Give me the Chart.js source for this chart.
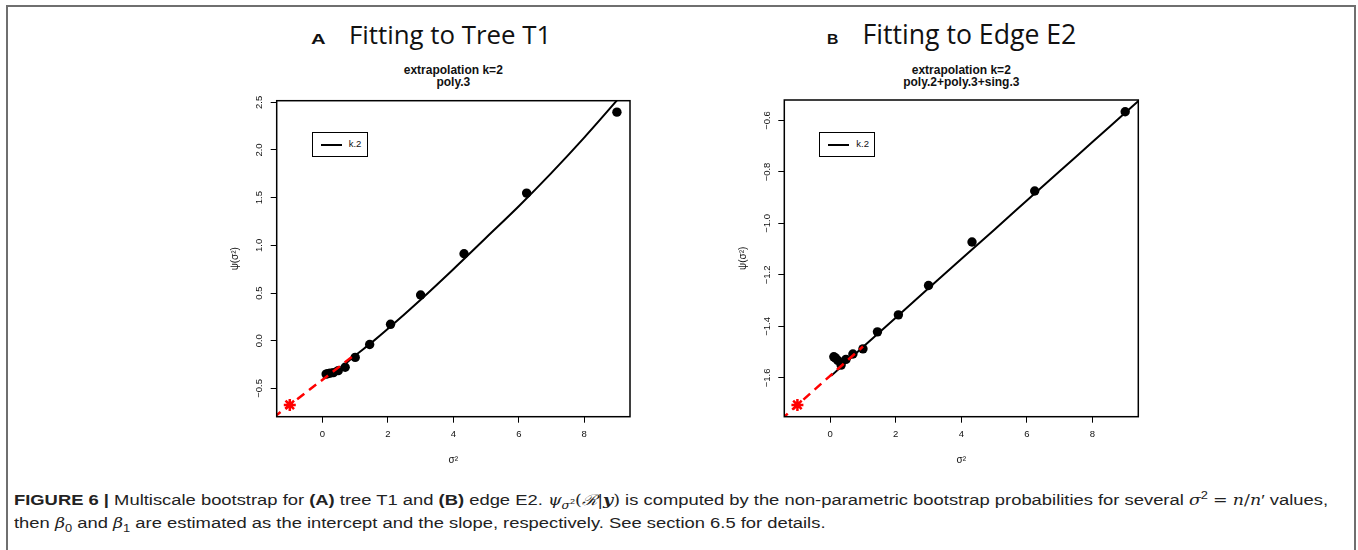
<!DOCTYPE html>
<html><head><meta charset="utf-8">
<script src="https://cdn.jsdelivr.net/npm/chart.js@4.4.1/dist/chart.umd.min.js"></script>
<style>
html,body{margin:0;padding:0;background:#fff;width:1358px;height:550px;overflow:hidden;position:relative;font-family:"Liberation Sans",Arial,sans-serif;}
.frame{position:absolute;left:6px;top:5px;width:1346px;height:600px;border:2px solid #6f6f6f;border-bottom:none;}
.cv{position:absolute;}
.bigA{position:absolute;font:bold 15px "Liberation Sans";line-height:15px;white-space:nowrap;color:#111;transform-origin:0 0}
.bigT{position:absolute;font:23px "Open Sans";line-height:23px;white-space:nowrap;color:#111}
.sub{position:absolute;font:bold 12px "Liberation Sans";line-height:12.7px;text-align:center;width:300px;color:#111}
.leg{position:absolute;border:1px solid #000;box-sizing:border-box;width:56px;height:25px;background:#fff}
.leg .ln{position:absolute;left:8px;top:11px;width:21px;height:2px;background:#000}
.leg .tx{position:absolute;left:36px;top:5px;font:9.5px "Liberation Sans";line-height:12px;color:#111}
.cap{position:absolute;left:14px;white-space:nowrap;font:15.5px "Liberation Sans Narrow","Liberation Sans";line-height:18px;color:#222;transform-origin:0 0}
.m{font-family:"DejaVu Serif","Liberation Serif",serif;font-style:italic;font-size:95%}
.r{font-family:"DejaVu Serif","Liberation Serif",serif;font-size:95%}
sub,sup{font-size:70%;line-height:0}
</style>
</head>
<body>
<div class="frame"></div>

<div class="bigA" id="tA" style="left:311px;top:30.6px;transform:scaleX(1.35)">A</div>
<div class="bigT" id="tTA" style="left:349px;top:22.9px">Fitting to Tree T1</div>
<div class="bigA" id="tB" style="left:826.5px;top:30.6px;transform:scaleX(1.05)">B</div>
<div class="bigT" id="tTB" style="left:862.5px;top:22.9px">Fitting to Edge E2</div>

<div class="sub" style="left:303.3px;top:63.6px">extrapolation k=2<br>poly.3</div>
<div class="sub" style="left:811.3px;top:63.6px">extrapolation k=2<br>poly.2+poly.3+sing.3</div>

<div class="cv" style="left:200px;top:88px;width:440px;height:384px"><canvas id="cA" width="440" height="384"></canvas></div>
<div class="cv" style="left:708px;top:88px;width:441px;height:384px"><canvas id="cB" width="441" height="384"></canvas></div>

<div class="leg" style="left:311.7px;top:131.7px"><div class="ln"></div><div class="tx">k.2</div></div>
<div class="leg" style="left:819.3px;top:131.7px"><div class="ln"></div><div class="tx">k.2</div></div>

<div class="cap" id="cap1" style="top:491px"><b>FIGURE 6 |</b> Multiscale bootstrap for <b>(A)</b> tree T1 and <b>(B)</b> edge E2. <span class="m">ψ</span><sub><span class="m">σ</span><sup>2</sup></sub><span class="r">(</span><span class="m">ℛ</span><span class="r">|</span><b class="m">y</b><span class="r">)</span> is computed by the non-parametric bootstrap probabilities for several <span class="m">σ</span><sup>2</sup> <span class="r">=</span> <span class="m">n</span><span class="r">/</span><span class="m">n</span>′ values,</div>
<div class="cap" id="cap2" style="top:514px">then <span class="m">β</span><sub>0</sub> and <span class="m">β</span><sub>1</sub> are estimated as the intercept and the slope, respectively. See section 6.5 for details.</div>

<script>
// ---- data ----
const sigma2 = [0.111, 0.160, 0.231, 0.333, 0.481, 0.693, 1.0, 1.442, 2.080, 3.0, 4.327, 6.240, 9.0];
const psiA = [-0.350, -0.345, -0.340, -0.335, -0.314, -0.278, -0.175, -0.040, 0.172, 0.479, 0.912, 1.548, 2.397];
const psiB = [-1.518, -1.522, -1.532, -1.550, -1.528, -1.507, -1.487, -1.421, -1.355, -1.241, -1.072, -0.874, -0.566];

const fitXA = [0.07, 0.3, 0.6, 1.0, 1.5, 2.0, 3.0, 4.0, 5.0, 6.0, 7.0, 8.0, 9.0, 9.4];
const fitYA = [-0.345, -0.330, -0.270, -0.155, -0.020, 0.125, 0.430, 0.750, 1.080, 1.410, 1.760, 2.130, 2.520, 2.680];
const fitXB = [0.03, 1.0, 2.0, 3.0, 4.0, 5.0, 6.0, 7.0, 8.0, 9.0, 9.45];
const fitYB = [-1.592, -1.480, -1.366, -1.252, -1.138, -1.025, -0.911, -0.797, -0.684, -0.570, -0.519];

const extXA = [-1.5, 0.95];
const extYA = [-0.806, -0.157];
const extXB = [-1.5, 1.0];
const extYB = [-1.762, -1.478];

const crossXA = [-1], crossYA = [-0.674];
const crossXB = [-1], crossYB = [-1.705];

const xTicks = [0, 2, 4, 6, 8];
const xTickLabels = ["0", "2", "4", "6", "8"];
const yTicksA = [-0.5, 0.0, 0.5, 1.0, 1.5, 2.0, 2.5];
const yTickLabelsA = ["\u22120.5", "0.0", "0.5", "1.0", "1.5", "2.0", "2.5"];
const yTicksB = [-1.6, -1.4, -1.2, -1.0, -0.8, -0.6];
const yTickLabelsB = ["\u22121.6", "\u22121.4", "\u22121.2", "\u22121.0", "\u22120.8", "\u22120.6"];

const xRange = [-1.4, 9.4];
const yRangeA = [-0.797, 2.517];
const yRangeB = [-1.7506, -0.5204];

const pts = (xs, ys) => xs.map((x, i) => ({x: x, y: ys[i]}));

const boxPlugin = {
  id: 'box',
  afterDraw(chart) {
    const a = chart.chartArea, c = chart.ctx;
    c.save(); c.strokeStyle = '#000'; c.lineWidth = 1.5;
    c.strokeRect(a.left, a.top, a.right - a.left, a.bottom - a.top);
    c.restore();
  }
};

function makePanel(id, psi, fx, fy, ex, ey, cx, cy, yRange, yT, yTL, geo) {
  const tickFont = {family: 'Liberation Sans', size: 9.5};
  new Chart(document.getElementById(id), {
    type: 'scatter',
    data: {
      datasets: [
        {data: pts(sigma2, psi), pointRadius: 4.7, pointBackgroundColor: '#000', pointBorderWidth: 0, showLine: false, order: 4},
        {data: pts(fx, fy), showLine: true, borderColor: '#000', borderWidth: 2, pointRadius: 0, cubicInterpolationMode: 'monotone', clip: 0, order: 3},
        {data: pts(ex, ey), showLine: true, borderColor: '#ff0000', borderWidth: 2.5, borderDash: [9, 6], pointRadius: 0, clip: 0, order: 2},
        {data: pts(cx, cy), pointStyle: 'star', pointRadius: 6, pointBorderColor: '#ff0000', pointBorderWidth: 2.5, showLine: false, order: 1}
      ]
    },
    options: {
      responsive: false, animation: false, devicePixelRatio: 1,
      layout: {padding: {left: 0, top: geo.padTop, right: geo.padRight, bottom: 0}},
      plugins: {legend: {display: false}, tooltip: {enabled: false}},
      scales: {
        x: {
          type: 'linear', min: xRange[0], max: xRange[1],
          afterBuildTicks: s => { s.ticks = xTicks.map(v => ({value: v})); },
          afterFit: s => { s.height = geo.xH; },
          ticks: {callback: (v, i) => xTickLabels[i], font: tickFont, color: '#111', padding: 6, maxRotation: 0, autoSkip: false},
          grid: {display: true, drawOnChartArea: false, drawTicks: true, tickLength: 6, color: '#000', lineWidth: 1},
          border: {display: false},
          title: {display: true, text: 'σ²', font: {family: 'Liberation Sans', size: 10}, color: '#111', padding: {top: 0, bottom: 5.7}}
        },
        y: {
          type: 'linear', min: yRange[0], max: yRange[1],
          afterBuildTicks: s => { s.ticks = yT.map(v => ({value: v})); },
          afterFit: s => { s.width = geo.yW; },
          ticks: {callback: (v, i) => yTL[i], font: tickFont, color: '#111', padding: 1.5, minRotation: 90, maxRotation: 90, crossAlign: 'center', autoSkip: false},
          grid: {display: true, drawOnChartArea: false, drawTicks: true, tickLength: 6, color: '#000', lineWidth: 1},
          border: {display: false},
          title: {display: true, text: 'ψ(σ²)', font: {family: 'Liberation Sans', size: 10}, color: '#111', padding: {top: 29, bottom: 0}}
        }
      }
    },
    plugins: [boxPlugin]
  });
}

makePanel('cA', psiA, fitXA, fitYA, extXA, extYA, crossXA, crossYA, yRangeA, yTicksA, yTickLabelsA,
  {padTop: 12.7, padRight: 10, xH: 55.3, yW: 76.7});
makePanel('cB', psiB, fitXB, fitYB, extXB, extYB, crossXB, crossYB, yRangeB, yTicksB, yTickLabelsB,
  {padTop: 12, padRight: 10.7, xH: 55.3, yW: 76.3});

// fit text widths to the reference layout
function fitFont(id, target) {
  const el = document.getElementById(id);
  const w = el.getBoundingClientRect().width;
  const fs = parseFloat(getComputedStyle(el).fontSize);
  el.style.fontSize = (fs * target / w) + 'px';
}
fitFont('tTA', 202.4);
fitFont('tTB', 214);
const c1 = document.getElementById('cap1'), c2 = document.getElementById('cap2');
const sc = 1314 / c1.getBoundingClientRect().width;
c1.style.transform = 'scaleX(' + sc + ')';
c2.style.transform = 'scaleX(' + sc + ')';
</script>
</body></html>
